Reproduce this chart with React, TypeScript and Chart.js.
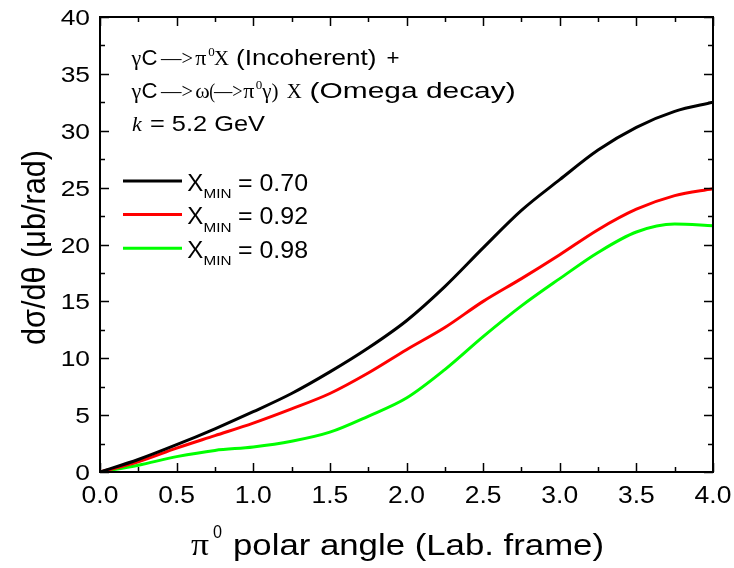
import React, { useEffect, useRef } from "react";
import { Chart, registerables } from "chart.js";

Chart.register(...registerables);

const xValues = [0, 0.25, 0.5, 0.75, 1.0, 1.25, 1.5, 1.75, 2.0, 2.25, 2.5, 2.75, 3.0, 3.25, 3.5, 3.75, 4.0];
const black070 = [0, 1.1, 2.4, 3.8, 5.3, 6.9, 8.8, 10.9, 13.3, 16.3, 19.7, 23.0, 25.7, 28.3, 30.3, 31.7, 32.5];
const red092 = [0, 0.9, 2.1, 3.2, 4.3, 5.55, 6.9, 8.7, 10.75, 12.7, 15.0, 17.0, 19.1, 21.3, 23.1, 24.3, 24.9];
const green098 = [0, 0.6, 1.35, 1.9, 2.2, 2.7, 3.5, 4.9, 6.5, 9.0, 11.9, 14.6, 17.0, 19.3, 21.1, 21.8, 21.65];

const legendValues = ["0.70", "0.92", "0.98"];
const seriesColors = ["#000000", "#ff0000", "#00ff00"];
const xTicks = [0, 0.5, 1.0, 1.5, 2.0, 2.5, 3.0, 3.5, 4.0];
const yTicks = [0, 5, 10, 15, 20, 25, 30, 35, 40];

const SANS = "'Liberation Sans', Arial, sans-serif";
const SERIF = "'Liberation Serif', 'Times New Roman', serif";

// draw text starting at x (left) on baseline y, stretched horizontally by sx,
// or fitted to width fitW if given
function txt(
  ctx: CanvasRenderingContext2D,
  text: string,
  font: string,
  x: number,
  y: number,
  opt: { sx?: number; fitW?: number; align?: "left" | "center" | "right" } = {}
) {
  ctx.font = font;
  const w = ctx.measureText(text).width;
  const sx = opt.fitW ? opt.fitW / w : opt.sx ?? 1.15;
  const W = w * sx;
  let x0 = x;
  if (opt.align === "center") x0 = x - W / 2;
  if (opt.align === "right") x0 = x - W;
  ctx.save();
  ctx.translate(x0, y);
  ctx.scale(sx, 1);
  ctx.textAlign = "left";
  ctx.textBaseline = "alphabetic";
  ctx.fillText(text, 0, 0);
  ctx.restore();
  return x0 + W;
}

const decorPlugin = {
  id: "decor",
  afterDraw(chart: any) {
    const ctx: CanvasRenderingContext2D = chart.ctx;
    const { left, right, top, bottom } = chart.chartArea;
    const xs = chart.scales.x;
    const ys = chart.scales.y;
    ctx.save();
    ctx.strokeStyle = "#000";
    ctx.fillStyle = "#000";
    ctx.lineWidth = 2;
    ctx.strokeRect(left, top, right - left, bottom - top);
    ctx.lineWidth = 1.5;
    ctx.beginPath();
    for (let v = 0; v <= 4.0001; v += 0.25) {
      const px = Math.round(xs.getPixelForValue(v)) + 0.5;
      const major = Math.abs(v / 0.5 - Math.round(v / 0.5)) < 1e-6;
      const len = major ? 9 : 5;
      ctx.moveTo(px, bottom);
      ctx.lineTo(px, bottom - len);
      ctx.moveTo(px, top);
      ctx.lineTo(px, top + len);
    }
    for (let v = 0; v <= 40.0001; v += 2.5) {
      const py = Math.round(ys.getPixelForValue(v)) + 0.5;
      const major = Math.abs(v / 5 - Math.round(v / 5)) < 1e-6;
      const len = major ? 9 : 5;
      ctx.moveTo(left, py);
      ctx.lineTo(left + len, py);
      ctx.moveTo(right, py);
      ctx.lineTo(right - len, py);
    }
    ctx.stroke();

    // tick labels
    const tickFont = `22px ${SANS}`;
    for (const v of yTicks) {
      const py = ys.getPixelForValue(v);
      txt(ctx, String(v), tickFont, left - 10, py + 8, { sx: 1.2, align: "right" });
    }
    for (const v of xTicks) {
      const px = xs.getPixelForValue(v);
      txt(ctx, v.toFixed(1), `23px ${SANS}`, px, 503, { sx: 1.15, align: "center" });
    }

    // annotation
    const serif = `22px ${SERIF}`;
    const sans = `22px ${SANS}`;
    const sup = `13px ${SERIF}`;
    const b1 = 65;
    const b2 = 98;
    const b3 = 131;
    txt(ctx, "\u03b3", serif, 131.5, b1, { sx: 1.0 });
    txt(ctx, "C", sans, 141.5, b1, { fitW: 16 });
    txt(ctx, "\u2014>", serif, 161, b1, { fitW: 32 });
    txt(ctx, "\u03c0", serif, 195.3, b1, { sx: 1.0 });
    txt(ctx, "0", sup, 208.3, b1 - 9, { sx: 1.0 });
    txt(ctx, "X", serif, 214, b1, { fitW: 15 });
    txt(ctx, "(Incoherent)", sans, 236, b1, { fitW: 140.5 });
    txt(ctx, "+", sans, 386.4, b1, { fitW: 13 });

    txt(ctx, "\u03b3", serif, 131.5, b2, { sx: 1.0 });
    txt(ctx, "C", sans, 141.5, b2, { fitW: 16 });
    txt(ctx, "\u2014>", serif, 161, b2, { fitW: 32 });
    txt(ctx, "\u03c9", serif, 195.3, b2, { sx: 1.0 });
    txt(ctx, "(", serif, 209.3, b2, { sx: 0.8 });
    txt(ctx, "\u2014>", serif, 214, b2, { fitW: 28.6 });
    txt(ctx, "\u03c0", serif, 243.3, b2, { sx: 1.0 });
    txt(ctx, "0", sup, 255.7, b2 - 9, { sx: 1.0 });
    txt(ctx, "\u03b3)", serif, 262.3, b2, { fitW: 16.3 });
    txt(ctx, "X", serif, 286.8, b2, { fitW: 15 });
    txt(ctx, "(Omega decay)", sans, 309.6, b2, { fitW: 206 });

    txt(ctx, "k", `italic 22px ${SERIF}`, 132, b3, { sx: 1.0 });
    txt(ctx, "= 5.2 GeV", sans, 150, b3, { fitW: 115 });

    // legend
    for (let i = 0; i < 3; i++) {
      const ly = 181 + i * 33.6;
      ctx.strokeStyle = seriesColors[i];
      ctx.lineWidth = 3;
      ctx.beginPath();
      ctx.moveTo(123, ly);
      ctx.lineTo(182, ly);
      ctx.stroke();
      txt(ctx, "X", `24px ${SANS}`, 187.3, ly + 9.5, { fitW: 16 });
      txt(ctx, "MIN", `13px ${SANS}`, 203.5, ly + 17, { fitW: 28 });
      txt(ctx, "= " + legendValues[i], `24px ${SANS}`, 238, ly + 9.5, { fitW: 70 });
    }

    // x title
    txt(ctx, "\u03c0", `32px ${SERIF}`, 191, 555, { fitW: 18 });
    txt(ctx, "0", `19px ${SANS}`, 213, 538, { fitW: 9 });
    txt(ctx, "polar angle (Lab. frame)", `30px ${SANS}`, 233, 555, { fitW: 371 });

    // y title
    ctx.save();
    ctx.translate(45, 247.5);
    ctx.rotate(-Math.PI / 2);
    ctx.font = `28px ${SANS}`;
    const t = "d\u03c3/d\u03b8 (\u03bcb/rad)";
    const w = ctx.measureText(t).width;
    ctx.scale(195 / w, 1.2);
    ctx.textAlign = "center";
    ctx.textBaseline = "alphabetic";
    ctx.fillText(t, 0, 0);
    ctx.restore();

    ctx.restore();
  },
};

export default function App() {
  const ref = useRef<HTMLCanvasElement | null>(null);
  useEffect(() => {
    document.body.style.margin = "0";
    const mk = (ys: number[]) => xValues.map((x, i) => ({ x, y: ys[i] }));
    const chart = new Chart(ref.current!, {
      type: "line",
      data: {
        datasets: [black070, red092, green098].map((d, i) => ({
          label: "XMIN = " + legendValues[i],
          data: mk(d),
          borderColor: seriesColors[i],
          borderWidth: 3,
          pointRadius: 0,
          fill: false,
          cubicInterpolationMode: "monotone" as const,
        })),
      },
      options: {
        responsive: false,
        animation: false,
        devicePixelRatio: 1,
        layout: { padding: { left: 0, right: 21, top: 17, bottom: 0 } },
        plugins: { legend: { display: false }, tooltip: { enabled: false } },
        scales: {
          x: {
            type: "linear",
            min: 0,
            max: 4,
            afterBuildTicks: (s: any) => {
              s.ticks = xTicks.map((v) => ({ value: v }));
            },
            afterFit: (s: any) => {
              s.height = 96;
            },
            grid: { display: false },
            border: { display: false },
            ticks: { display: false },
          },
          y: {
            type: "linear",
            min: 0,
            max: 40,
            afterBuildTicks: (s: any) => {
              s.ticks = yTicks.map((v) => ({ value: v }));
            },
            afterFit: (s: any) => {
              s.width = 100;
            },
            grid: { display: false },
            border: { display: false },
            ticks: { display: false },
          },
        },
      },
      plugins: [decorPlugin],
    });
    return () => chart.destroy();
  }, []);
  return (
    <div style={{ width: 734, height: 568 }}>
      <canvas ref={ref} width={734} height={568} />
    </div>
  );
}
